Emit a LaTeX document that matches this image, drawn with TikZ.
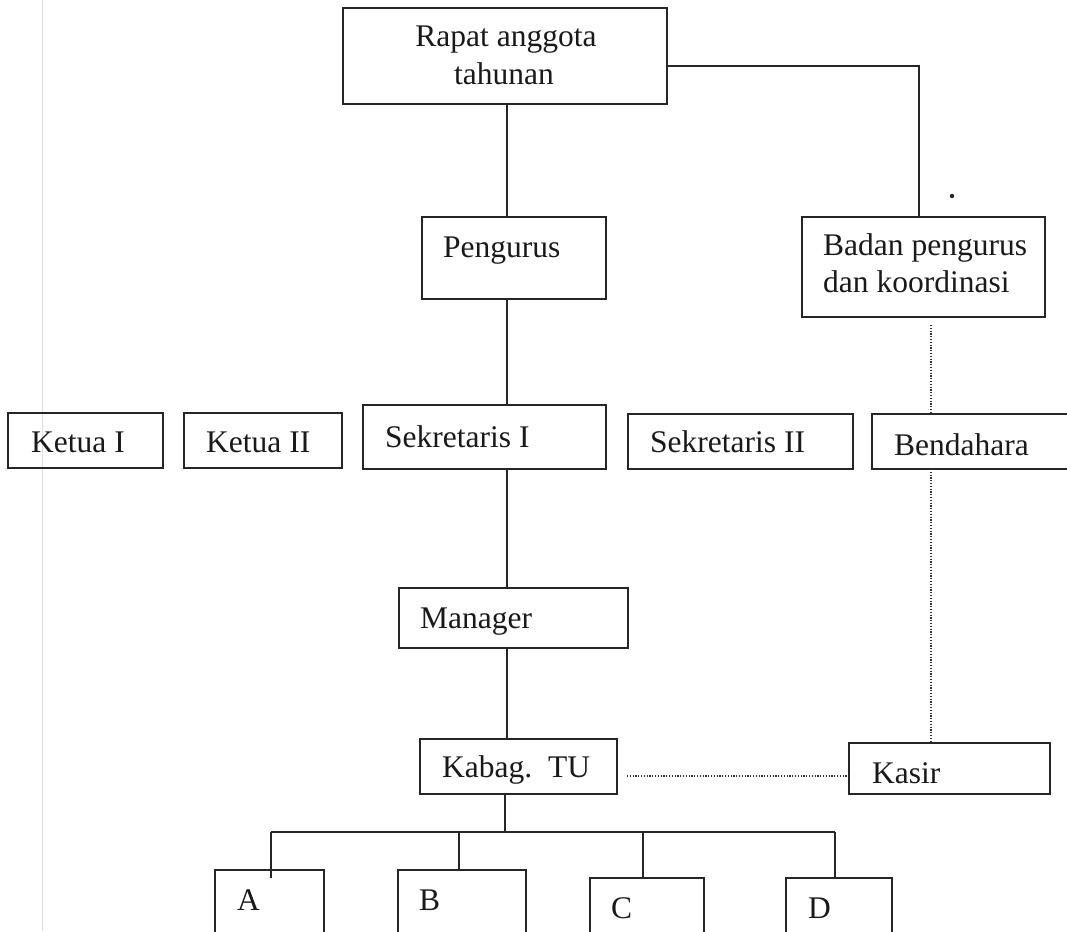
\documentclass[tikz,border=0pt]{standalone}
\usepackage{fontspec}
\setmainfont{Liberation Serif}
\usetikzlibrary{calc}
\begin{document}
\begin{tikzpicture}[x=1pt,y=-1pt,
  box/.style={draw=black!85, line width=1.8pt, inner sep=0pt, outer sep=0pt, anchor=north west},
  txt/.style={inner sep=0pt, anchor=base west, font=\fontsize{31.5}{37.5}\selectfont, text=black!90},
  conn/.style={draw=black!85, line width=1.8pt},
  dotline/.style={draw=black!80, line width=1.3pt, dash pattern=on 1.2pt off 1.6pt}]
\useasboundingbox (0,0) rectangle (1067,931);
\clip (0,0) rectangle (1067,931);
% faint scan line
\draw[black!12, line width=1pt] (42,0) -- (42,931);
% boxes
\node[box, minimum width=324pt, minimum height=96pt] (rapat) at (343,8) {};
\node[box, minimum width=184pt, minimum height=82pt] (pengurus) at (422,217) {};
\node[box, minimum width=243pt, minimum height=100pt] (badan) at (802,217) {};
\node[box, minimum width=155pt, minimum height=55pt] (ketua1) at (8,413) {};
\node[box, minimum width=158pt, minimum height=55pt] (ketua2) at (184,413) {};
\node[box, minimum width=243pt, minimum height=64pt] (sek1) at (363,405) {};
\node[box, minimum width=225pt, minimum height=55pt] (sek2) at (628,414) {};
\node[box, minimum width=205pt, minimum height=55pt] (bend) at (872,414) {};
\node[box, minimum width=229pt, minimum height=60pt] (manager) at (399,588) {};
\node[box, minimum width=197pt, minimum height=55pt] (kabag) at (420,739) {};
\node[box, minimum width=201pt, minimum height=51pt] (kasir) at (849,743) {};
\node[box, minimum width=109pt, minimum height=80pt] (a) at (215,870) {};
\node[box, minimum width=128pt, minimum height=80pt] (b) at (398,870) {};
\node[box, minimum width=114pt, minimum height=72pt] (c) at (590,878) {};
\node[box, minimum width=106pt, minimum height=72pt] (d) at (786,878) {};
% texts
\node[txt, anchor=base] (rapat-t1) at (506,47) {Rapat anggota};
\node[txt, anchor=base] (rapat-t2) at (504,85) {tahunan};
\node[txt] (pengurus-t) at (443,257) {Pengurus};
\node[txt] (badan-t1) at (823,255) {Badan pengurus};
\node[txt] (badan-t2) at (823,292) {dan koordinasi};
\node[txt] (ketua1-t) at (31,452) {Ketua I};
\node[txt] (ketua2-t) at (206,452) {Ketua II};
\node[txt] (sek1-t) at (385,447) {Sekretaris I};
\node[txt] (sek2-t) at (650,452) {Sekretaris II};
\node[txt] (bend-t) at (894,455) {Bendahara};
\node[txt] (manager-t) at (420,628) {Manager};
\node[txt] (kabag-t) at (442,777) {Kabag.\ \ TU};
\node[txt] (kasir-t) at (872,783) {Kasir};
\node[txt] (a-t) at (237,910) {A};
\node[txt] (b-t) at (419,910) {B};
\node[txt] (c-t) at (611,918) {C};
\node[txt] (d-t) at (808,918) {D};
% solid connectors
\coordinate (sp) at (507,0);
\draw[conn] (sp |- rapat.south) -- (sp |- pengurus.north);
\draw[conn] (sp |- pengurus.south) -- (sp |- sek1.north);
\draw[conn] (sp |- sek1.south) -- (sp |- manager.north);
\draw[conn] (sp |- manager.south) -- (sp |- kabag.north);
\coordinate (rj) at (919,66);
\draw[conn] (rapat.east |- rj) -- (rj) -- (rj |- badan.north);
\coordinate (bar) at (505,832);
\coordinate (xa) at (271,0);
\coordinate (xb) at (459,0);
\coordinate (xc) at (643,0);
\coordinate (xd) at (835,0);
\coordinate (aT) at (271,878);
\draw[conn] (bar |- kabag.south) -- (bar);
\draw[conn] (xa |- bar) -- (xd |- bar);
\draw[conn] (xa |- bar) -- (aT);
\draw[conn] (xb |- bar) -- (xb |- b.north);
\draw[conn] (xc |- bar) -- (xc |- c.north);
\draw[conn] (xd |- bar) -- (xd |- d.north);
% dotted connectors
\coordinate (dx) at (931,0);
\draw[dotline] ($(dx |- badan.south)+(0,8)$) -- (dx |- bend.north);
\draw[dotline] (dx |- bend.south) -- (dx |- kasir.north);
\coordinate (hy) at (0,776);
\draw[dotline] ($(kabag.east |- hy)+(10,0)$) -- (kasir.west |- hy);
% stray dot
\fill[black!85] (952,196) circle (2.2pt);
\end{tikzpicture}
\end{document}
